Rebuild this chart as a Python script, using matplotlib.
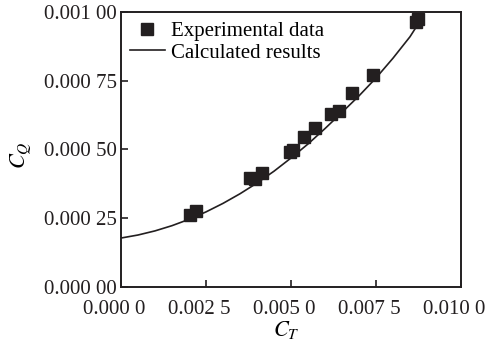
import matplotlib
matplotlib.use("Agg")
import matplotlib.pyplot as plt
from matplotlib.transforms import ScaledTranslation

exp_ct = [0.00203, 0.00221, 0.00379, 0.00394, 0.00415, 0.00497, 0.00506,
          0.00538, 0.00571, 0.00618, 0.00641, 0.00679, 0.00741, 0.00868, 0.00874]
exp_cq = [0.000262, 0.000276, 0.000396, 0.000393, 0.000415, 0.000491, 0.000498,
          0.000545, 0.000578, 0.000629, 0.000640, 0.000705, 0.000771, 0.000964, 0.000975]

# Calculated results curve
calc_ct = [0.0, 0.0005, 0.001, 0.0015, 0.002, 0.0025, 0.003, 0.0035, 0.004, 0.0045,
           0.005, 0.0055, 0.006, 0.0065, 0.007, 0.0075, 0.008, 0.0085, 0.0088]
calc_cq = [0.000178, 0.000189, 0.000204, 0.000223, 0.000246, 0.000273, 0.000304,
           0.000339, 0.000378, 0.000421, 0.000469, 0.000520, 0.000576, 0.000635,
           0.000695, 0.000760, 0.000832, 0.000910, 0.000968]

xticks = [0.0, 0.0025, 0.005, 0.0075, 0.01]
xtick_labels = ["0.000 0", "0.002 5", "0.005 0", "0.007 5", "0.010 0"]
yticks = [0.0, 0.00025, 0.0005, 0.00075, 0.001]
ytick_labels = ["0.000 00", "0.000 25", "0.000 50", "0.000 75", "0.001 00"]

plt.rcParams['font.family'] = ['Liberation Serif', 'DejaVu Serif']
plt.rcParams['mathtext.fontset'] = 'stix'

fig = plt.figure(figsize=(4.89, 3.43), dpi=100)
ax = fig.add_axes([0.2474, 0.1633, 0.6953, 0.8017])

ax.plot(exp_ct, exp_cq, linestyle='none', marker='s', markersize=8.5,
        color='#231f20', label='Experimental data', clip_on=False, zorder=3)
ax.plot(calc_ct, calc_cq, color='#231f20', linewidth=1.2, label='Calculated results')

ax.set_xlim(0, 0.01)
ax.set_ylim(0, 0.001)
ax.set_xticks(xticks)
ax.set_xticklabels([])
ax.set_yticks(yticks)
ax.set_yticklabels(ytick_labels)
ax.tick_params(direction='in', length=5, width=1.2, labelsize=15,
               top=False, right=False, colors='#231f20')
ax.tick_params(axis='y', pad=3)

# x tick labels, slightly offset to the left as in the reference
shift = ScaledTranslation(-6.5 / 100, -13.5 / 100, fig.dpi_scale_trans)
for xv, txt in zip(xticks, xtick_labels):
    ax.text(xv, 0, txt, transform=ax.get_xaxis_transform() + shift,
            ha='center', va='top', fontsize=15, color='#231f20', clip_on=False)

for s in ax.spines.values():
    s.set_linewidth(1.4)
    s.set_color('#231f20')

ax.set_xlabel(r'$C_T$', fontsize=16)
ax.xaxis.set_label_coords(0.485, -0.118)
ax.set_ylabel(r'$C_Q$', fontsize=16)
ax.yaxis.set_label_coords(-0.255, 0.48)

leg = ax.legend(loc='upper left', frameon=False, fontsize=15, handlelength=1.68,
                handletextpad=0.3, borderaxespad=0.0, labelspacing=0.1,
                bbox_to_anchor=(0.002, 0.9963))

fig.savefig('out.png', dpi=100)
